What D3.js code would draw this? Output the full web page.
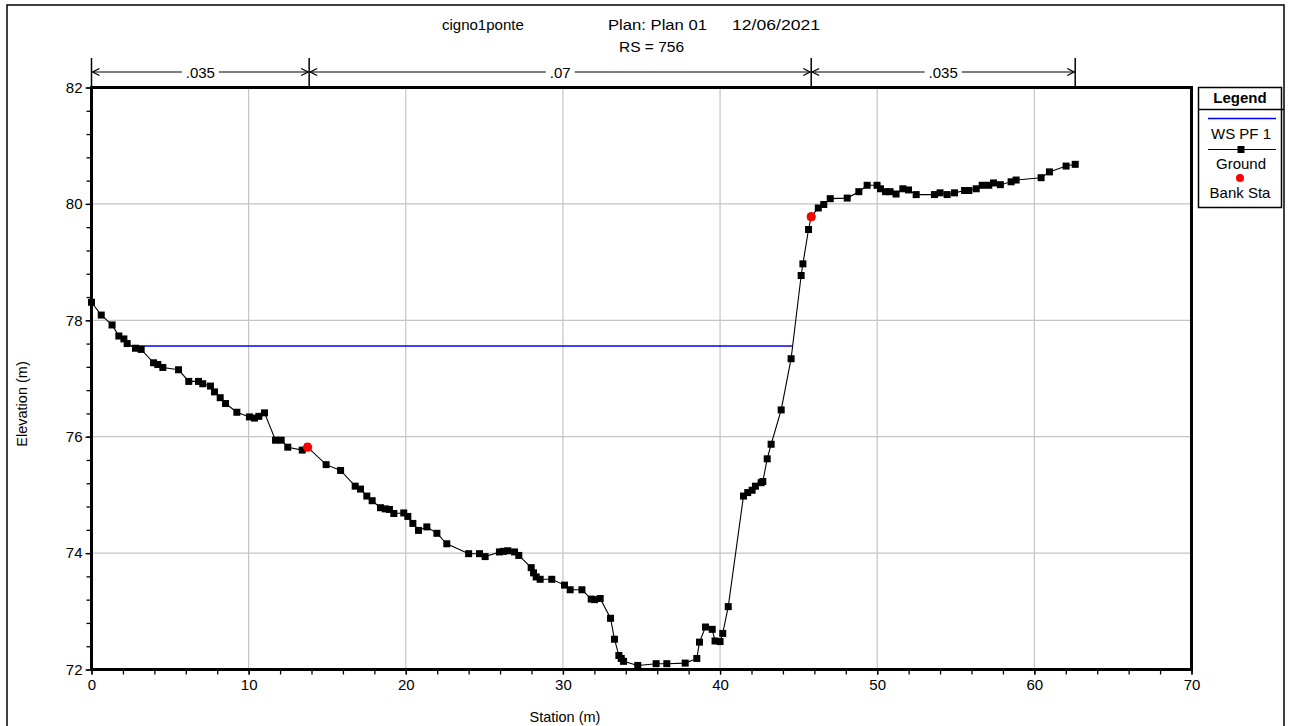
<!DOCTYPE html>
<html>
<head>
<meta charset="utf-8">
<script src="https://cdn.jsdelivr.net/npm/d3@7"></script>
<style>
  html, body { margin: 0; padding: 0; background: #fff; }
  svg { display: block; font-family: "Liberation Sans", Arial, sans-serif; }
</style>
</head>
<body>
<svg id="chart" width="1289" height="726"></svg>
<script>
// ---- DATA ----
const groundStation = [0, 0.62, 1.31, 1.74, 2.06, 2.27, 2.80, 3.16, 3.95, 4.22, 4.54, 5.54, 6.19, 6.81, 7.08, 7.57, 7.83, 8.19, 8.53, 9.25,
  10.05, 10.37, 10.65, 11.01, 11.71, 12.07, 12.49, 13.41, 13.75, 14.93, 15.85, 16.78, 17.12, 17.52, 17.86, 18.39, 18.69, 18.96, 19.24, 19.87,
  20.13, 20.45, 20.81, 21.34, 21.98, 22.61, 24.00, 24.69, 25.05, 25.96, 26.21, 26.49, 26.92, 27.19, 27.98, 28.13, 28.30, 28.55, 29.29,
  30.10, 30.46, 31.21, 31.80, 32.01, 32.37, 33.03, 33.28, 33.56, 33.71, 33.86, 34.76, 35.93, 36.61, 37.78, 38.52, 38.69, 39.07, 39.50, 39.68,
  40.00, 40.17, 40.52, 41.49, 41.76, 42.04, 42.25, 42.61, 42.72, 43.00, 43.25, 43.89, 44.52, 45.16, 45.27, 45.63, 45.80, 46.25, 46.60,
  47.01, 48.09, 48.83, 49.36, 49.99, 50.21, 50.53, 50.82, 51.20, 51.63, 51.99, 52.48, 53.64, 54.00, 54.45, 54.92, 55.56, 55.83, 56.30,
  56.68, 57.10, 57.40, 57.84, 58.52, 58.84, 60.43, 60.96, 62.02, 62.60];
const groundElev = [78.31, 78.09, 77.92, 77.73, 77.68, 77.60, 77.52, 77.50, 77.27, 77.24, 77.19, 77.15, 76.95, 76.95, 76.91, 76.87, 76.77, 76.67, 76.57, 76.42,
  76.34, 76.32, 76.35, 76.41, 75.94, 75.94, 75.82, 75.77, 75.82, 75.52, 75.42, 75.15, 75.10, 74.98, 74.90, 74.78, 74.76, 74.75, 74.68, 74.69,
  74.63, 74.51, 74.39, 74.45, 74.34, 74.16, 73.99, 73.99, 73.94, 74.02, 74.03, 74.04, 74.02, 73.96, 73.75, 73.66, 73.59, 73.55, 73.55,
  73.45, 73.37, 73.37, 73.21, 73.20, 73.22, 72.88, 72.52, 72.24, 72.19, 72.14, 72.07, 72.10, 72.10, 72.11, 72.19, 72.47, 72.73, 72.69, 72.49,
  72.48, 72.62, 73.08, 74.98, 75.04, 75.08, 75.15, 75.21, 75.23, 75.62, 75.87, 76.46, 77.34, 78.77, 78.97, 79.56, 79.78, 79.93, 79.99,
  80.09, 80.10, 80.21, 80.32, 80.32, 80.26, 80.21, 80.21, 80.17, 80.26, 80.24, 80.16, 80.16, 80.19, 80.16, 80.19, 80.23, 80.23, 80.26,
  80.32, 80.32, 80.36, 80.33, 80.38, 80.41, 80.45, 80.55, 80.65, 80.68];
const wsStation = [2.52, 44.62];
const wsElev = [77.56, 77.56];
const bankStation = [13.75, 45.80];
const bankElev = [75.82, 79.78];
const manningBreaks = [0, 13.85, 45.80, 62.60];
const manningValues = [".035", ".07", ".035"];
const xTickValues = [0, 10, 20, 30, 40, 50, 60, 70];
const yTickValues = [72, 74, 76, 78, 80, 82];
const titleParts = ["cigno1ponte", "Plan: Plan 01", "12/06/2021"];
const subtitle = "RS = 756";
const xLabel = "Station (m)";
const yLabel = "Elevation (m)";
const legendItems = ["WS PF 1", "Ground", "Bank Sta"];

// ---- LAYOUT ----
const svg = d3.select("#chart");
const L = 91.5, R = 1191.5, T = 87.5, B = 669.5;
const x = d3.scaleLinear().domain([0, 70]).range([L, R]);
const y = d3.scaleLinear().domain([72, 82]).range([B, T]);
const font = "Liberation Sans, Arial, sans-serif";

// outer frame
svg.append("rect").attr("x", 7).attr("y", 5).attr("width", 1277).attr("height", 760)
  .attr("fill", "none").attr("stroke", "#000").attr("stroke-width", 1.5);

// gridlines
const grid = svg.append("g");
grid.selectAll("line.gx").data(xTickValues.filter(v => v > 0 && v < 70)).enter().append("line")
  .attr("x1", d => x(d)).attr("x2", d => x(d)).attr("y1", T).attr("y2", B)
  .attr("stroke", "#c4c4c4").attr("stroke-width", 1.2);
grid.selectAll("line.gy").data(yTickValues.filter(v => v > 72 && v < 82)).enter().append("line")
  .attr("x1", L).attr("x2", R).attr("y1", d => y(d)).attr("y2", d => y(d))
  .attr("stroke", "#c4c4c4").attr("stroke-width", 1.2);

// axes (major + minor)
function styleAxis(g) {
  g.select(".domain").remove();
  g.selectAll(".tick line").attr("stroke", "#000").attr("stroke-width", 1.3);
  g.selectAll(".tick text").attr("font-family", font).attr("font-size", 15).attr("fill", "#000");
}
const xMinor = d3.range(0, 70.001, 2);
const yMinor = d3.range(72, 82.001, 0.4);
svg.append("g").attr("transform", `translate(0,${B + 1})`)
  .call(d3.axisBottom(x).tickValues(xMinor).tickSize(4).tickFormat(""))
  .call(styleAxis);
svg.append("g").attr("transform", `translate(0,${B + 1})`)
  .call(d3.axisBottom(x).tickValues(xTickValues).tickSize(4).tickPadding(5).tickFormat(d3.format("d")))
  .call(styleAxis);
svg.append("g").attr("transform", `translate(${L - 1},0)`)
  .call(d3.axisLeft(y).tickValues(yMinor).tickSize(4).tickFormat(""))
  .call(styleAxis);
svg.append("g").attr("transform", `translate(${L - 1},0)`)
  .call(d3.axisLeft(y).tickValues(yTickValues).tickSize(5).tickPadding(3).tickFormat(d3.format("d")))
  .call(styleAxis);

// plot frame
svg.append("rect").attr("x", L).attr("y", T).attr("width", R - L).attr("height", B - T)
  .attr("fill", "none").attr("stroke", "#000").attr("stroke-width", 3);

// water surface
const ws = wsStation.map((s, i) => [s, wsElev[i]]);
svg.append("path").datum(ws)
  .attr("d", d3.line().x(d => x(d[0])).y(d => y(d[1])))
  .attr("fill", "none").attr("stroke", "#0000ff").attr("stroke-width", 1.5);

// ground
const ground = groundStation.map((s, i) => [s, groundElev[i]]);
svg.append("path").datum(ground)
  .attr("d", d3.line().x(d => x(d[0])).y(d => y(d[1])))
  .attr("fill", "none").attr("stroke", "#000").attr("stroke-width", 1.1);
const ms = 7;
svg.append("g").selectAll("rect").data(ground).enter().append("rect")
  .attr("x", d => x(d[0]) - ms / 2).attr("y", d => y(d[1]) - ms / 2)
  .attr("width", ms).attr("height", ms).attr("fill", "#000");

// bank stations
svg.append("g").selectAll("circle").data(bankStation.map((s, i) => [s, bankElev[i]])).enter().append("circle")
  .attr("cx", d => x(d[0])).attr("cy", d => y(d[1])).attr("r", 4.6).attr("fill", "#ff0000");

// manning's n bar
const my = 72;
const mg = svg.append("g");
manningBreaks.forEach(b => {
  mg.append("line").attr("x1", x(b)).attr("x2", x(b)).attr("y1", 58).attr("y2", T)
    .attr("stroke", "#000").attr("stroke-width", 1.5);
});
function arrow(px, dir) {
  mg.append("path")
    .attr("d", `M${px - dir * 7},${my - 3.5} L${px},${my} L${px - dir * 7},${my + 3.5}`)
    .attr("fill", "none").attr("stroke", "#000").attr("stroke-width", 1.3);
}
manningValues.forEach((v, i) => {
  const x0 = x(manningBreaks[i]) + 1, x1 = x(manningBreaks[i + 1]) - 1;
  mg.append("line").attr("x1", x0).attr("x2", x1).attr("y1", my).attr("y2", my)
    .attr("stroke", "#000").attr("stroke-width", 1.2);
  arrow(x0, -1);
  arrow(x1, 1);
  const cx = (x(manningBreaks[i]) + x(manningBreaks[i + 1])) / 2;
  const bg = mg.append("rect").attr("fill", "#fff");
  const t = mg.append("text").attr("x", cx).attr("y", my + 5.5).attr("text-anchor", "middle")
    .attr("font-family", font).attr("font-size", 15).text(v);
  const w = t.node().getComputedTextLength();
  bg.attr("x", cx - w / 2 - 4).attr("y", my - 3).attr("width", w + 8).attr("height", 6);
});

// titles
const tg = svg.append("g").attr("font-family", font).attr("font-size", 15).attr("fill", "#000");
tg.append("text").attr("x", 442).attr("y", 30).text(titleParts[0]);
tg.append("text").attr("x", 608).attr("y", 30).attr("textLength", 99).attr("lengthAdjust", "spacingAndGlyphs").text(titleParts[1]);
tg.append("text").attr("x", 732).attr("y", 30).attr("textLength", 88).attr("lengthAdjust", "spacingAndGlyphs").text(titleParts[2]);
tg.append("text").attr("x", 619).attr("y", 52).attr("textLength", 65).attr("lengthAdjust", "spacingAndGlyphs").text(subtitle);
tg.append("text").attr("x", 565).attr("y", 722).attr("text-anchor", "middle").attr("font-size", 14.5).text(xLabel);
tg.append("text").attr("transform", "translate(27,404) rotate(-90)").attr("text-anchor", "middle")
  .attr("font-size", 14.5).text(yLabel);

// legend
const lg = svg.append("g").attr("font-family", font).attr("font-size", 15);
lg.append("rect").attr("x", 1198.5).attr("y", 87.5).attr("width", 83).attr("height", 120)
  .attr("fill", "#fff").attr("stroke", "#000").attr("stroke-width", 1.5);
lg.append("line").attr("x1", 1198.5).attr("x2", 1284).attr("y1", 109.5).attr("y2", 109.5)
  .attr("stroke", "#000").attr("stroke-width", 1.5);
lg.append("text").attr("x", 1240).attr("y", 103).attr("text-anchor", "middle").attr("font-weight", "bold").text("Legend");
lg.append("line").attr("x1", 1208).attr("x2", 1276).attr("y1", 118.5).attr("y2", 118.5)
  .attr("stroke", "#0000ff").attr("stroke-width", 1.5);
lg.append("text").attr("x", 1241).attr("y", 139).attr("text-anchor", "middle").text(legendItems[0]);
lg.append("line").attr("x1", 1208).attr("x2", 1276).attr("y1", 149.5).attr("y2", 149.5)
  .attr("stroke", "#000").attr("stroke-width", 1.1);
lg.append("rect").attr("x", 1241 - ms / 2).attr("y", 149.5 - ms / 2).attr("width", ms).attr("height", ms).attr("fill", "#000");
lg.append("text").attr("x", 1241).attr("y", 169).attr("text-anchor", "middle").text(legendItems[1]);
lg.append("circle").attr("cx", 1240).attr("cy", 178).attr("r", 4).attr("fill", "#ff0000");
lg.append("text").attr("x", 1240).attr("y", 198).attr("text-anchor", "middle").text(legendItems[2]);
</script>
</body>
</html>
